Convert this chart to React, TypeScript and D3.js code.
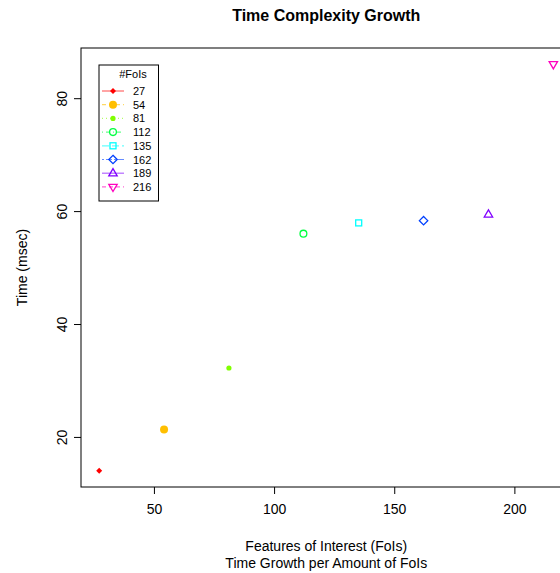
import * as d3 from 'd3'

const fois = [27, 54, 81, 112, 135, 162, 189, 216]
const times = [14.1, 21.4, 32.3, 56.1, 58.0, 58.4, 59.5, 86.1]
const colors = ['#FF0000', '#FFBF00', '#80FF00', '#00FF40', '#00FFFF', '#0040FF', '#8000FF', '#FF00BF']
const shapes = ['dot', 'disc', 'small', 'circle', 'square', 'diamond', 'triangle', 'down']
const dashes = ['', '4,3', '1,3', '1,3,4,3', '7,3', '2,2,6,2', '', '4,3']
const xTicks = [50, 100, 150, 200]
const yTicks = [20, 40, 60, 80]

const W = 560
const H = 573
const font = 'Liberation Sans, Arial, Helvetica, sans-serif'

function marker(shape: string, x: number, y: number, col: string, key?: any) {
    const sw = 1.3
    if (shape == 'dot')
        return <path key={key} d={`M${x},${y - 3}L${x + 3},${y}L${x},${y + 3}L${x - 3},${y}Z`} fill={col} />
    if (shape == 'disc')
        return <circle key={key} cx={x} cy={y} r={4} fill={col} />
    if (shape == 'small')
        return <circle key={key} cx={x} cy={y} r={2.6} fill={col} />
    if (shape == 'circle')
        return <circle key={key} cx={x} cy={y} r={3.4} fill="none" stroke={col} strokeWidth={sw} />
    if (shape == 'square')
        return <rect key={key} x={x - 3} y={y - 3} width={6} height={6} fill="none" stroke={col} strokeWidth={sw} />
    if (shape == 'diamond')
        return <path key={key} d={`M${x},${y - 4.2}L${x + 4.2},${y}L${x},${y + 4.2}L${x - 4.2},${y}Z`} fill="none" stroke={col} strokeWidth={sw} />
    if (shape == 'triangle')
        return <path key={key} d={`M${x},${y - 4.6}L${x + 4.2},${y + 2.6}L${x - 4.2},${y + 2.6}Z`} fill="none" stroke={col} strokeWidth={sw} />
    return <path key={key} d={`M${x},${y + 4.6}L${x + 4.2},${y - 2.6}L${x - 4.2},${y - 2.6}Z`} fill="none" stroke={col} strokeWidth={sw} />
}

export default function App() {
    // R style 4% extension of the data range
    const xr = d3.extent(fois) as [number, number]
    const yr = d3.extent(times) as [number, number]
    const xe = (xr[1] - xr[0]) * 0.04
    const ye = (yr[1] - yr[0]) * 0.04
    const left = 81, top = 48, bottom = 487
    const x = d3.scaleLinear().domain([xr[0] - xe, xr[1] + xe]).range([left, left + 490.5])
    const y = d3.scaleLinear().domain([yr[0] - ye, yr[1] + ye]).range([bottom, top])
    const right = x.range()[1]
    const cx = (left + right) / 2

    const lgX = 99, lgY = 65, lgW = 59.5, lgH = 136
    const rowH = 13.7

    return (
        <svg width={W} height={H} style={{ position: 'absolute', left: 0, top: 0, background: 'white' }} fontFamily={font}>
            <text x={cx} y={21} textAnchor="middle" fontSize={16} fontWeight="bold">Time Complexity Growth</text>
            <rect x={left} y={top} width={right - left} height={bottom - top} fill="none" stroke="#000" strokeWidth={1} />
            {xTicks.map(t => (
                <g key={'x' + t}>
                    <line x1={x(t)} x2={x(t)} y1={bottom} y2={bottom + 7} stroke="#000" />
                    <text x={x(t)} y={bottom + 27} textAnchor="middle" fontSize={14}>{t}</text>
                </g>
            ))}
            {yTicks.map(t => (
                <g key={'y' + t}>
                    <line x1={left - 7} x2={left} y1={y(t)} y2={y(t)} stroke="#000" />
                    <text transform={`translate(${left - 14},${y(t)}) rotate(-90)`} textAnchor="middle" fontSize={14}>{t}</text>
                </g>
            ))}
            <text x={cx} y={551} textAnchor="middle" fontSize={14}>Features of Interest (FoIs)</text>
            <text x={cx} y={568} textAnchor="middle" fontSize={14}>Time Growth per Amount of FoIs</text>
            <text transform={`translate(27,${(top + bottom) / 2}) rotate(-90)`} textAnchor="middle" fontSize={14}>Time (msec)</text>

            {fois.map((f, i) => marker(shapes[i], x(f), y(times[i]), colors[i], 'p' + i))}

            <rect x={lgX} y={lgY} width={lgW} height={lgH} fill="white" stroke="#000" strokeWidth={1} />
            <text x={lgX + 34} y={lgY + 13} textAnchor="middle" fontSize={11}>#FoIs</text>
            {fois.map((f, i) => {
                const ry = lgY + 26 + i * rowH
                return (
                    <g key={'l' + i}>
                        <line x1={lgX + 3} x2={lgX + 25} y1={ry} y2={ry} stroke={colors[i]} strokeOpacity={0.6} strokeWidth={1.2} strokeDasharray={dashes[i]} />
                        {marker(shapes[i], lgX + 14, ry, colors[i])}
                        <text x={lgX + 34} y={ry + 4} fontSize={11}>{f}</text>
                    </g>
                )
            })}
        </svg>
    )
}
